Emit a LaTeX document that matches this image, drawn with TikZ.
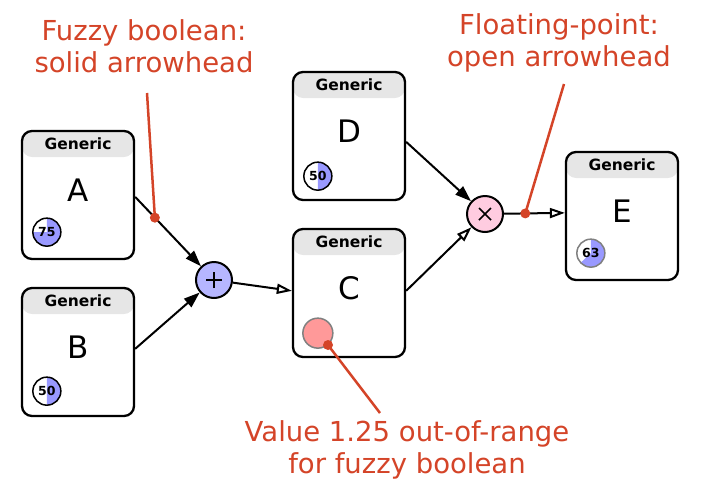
\documentclass[tikz,border=0pt]{standalone}
\usepackage{fontspec}
\setmainfont{DejaVu Sans}
\usetikzlibrary{arrows.meta,calc}
\definecolor{annot}{RGB}{212,68,40}
\definecolor{hdr}{RGB}{230,230,230}
\definecolor{pieblue}{RGB}{153,153,255}
\definecolor{plusfill}{RGB}{182,182,255}
\definecolor{timesfill}{RGB}{255,204,224}
\definecolor{badfill}{RGB}{255,153,153}
\newcommand\mkbox[4]{%
  \node[genbox] (#1) at (#2,#3) {};
  \node[hdrtext] at ([yshift=-14pt]#1.north) {Generic};
  \node[bigletter] at ([yshift=-60pt]#1.north) {#4};
}
\newcommand\mkpie[4]{%
  \fill[white] (#1) circle[radius=14pt];
  \fill[pieblue] (#1) -- ++(90:14pt) arc[start angle=90, end angle={90-3.6*#2}, radius=14pt] -- cycle;
  \draw[#4, line width=1.5pt] (#1) circle[radius=14pt];
  \node[pietext] at (#1) {#3};
}
\begin{document}
\begin{tikzpicture}[x=1pt,y=-1pt,
  genbox/.style={draw, line width=2.3pt, rounded corners=10pt, minimum width=112pt, minimum height=128pt, inner sep=0pt,
    path picture={\fill[hdr] (path picture bounding box.north west) rectangle ([yshift=-26pt]path picture bounding box.north east);}},
  hdrtext/.style={font=\bfseries\fontsize{15.5}{17}\selectfont},
  bigletter/.style={font=\fontsize{31}{34}\selectfont},
  pietext/.style={font=\bfseries\fontsize{12.5}{14}\selectfont},
  op/.style={circle, draw, line width=2pt, minimum size=36pt, inner sep=0pt},
  solidarr/.style={draw, line width=2pt, -{Triangle[length=16pt,width=11pt]}},
  openarr/.style={draw, line width=2pt, -{Triangle[open,length=15pt,width=10pt]}},
  annottext/.style={text=annot, align=center, font=\fontsize{27.5}{32}\selectfont},
  annotline/.style={draw=annot, line width=2.5pt},
  annotdot/.style={fill=annot}
]
\useasboundingbox (0,0) rectangle (710,499);
\mkbox{A}{78}{195}{A}
\mkbox{B}{78}{352}{B}
\mkbox{C}{349}{293}{C}
\mkbox{D}{349}{136}{D}
\mkbox{E}{622}{216}{E}
\mkpie{$(A.south west)+(26,-28)$}{75}{75}{black}
\mkpie{$(B.south west)+(26,-26)$}{50}{50}{black}
\mkpie{$(D.south west)+(26,-25)$}{50}{50}{black}
\mkpie{$(E.south west)+(26,-28)$}{63}{63}{gray}
\node[circle, draw=gray, line width=1.5pt, fill=badfill, minimum size=30pt, inner sep=0pt] (bad) at ($(C.south west)+(26,-25)$) {};
% operators
\node[op, fill=plusfill] (P) at (214,280) {};
\draw[line width=1.7pt] ([xshift=-8pt]P.center) -- ([xshift=8pt]P.center);
\draw[line width=1.7pt] ([yshift=-8pt]P.center) -- ([yshift=8pt]P.center);
\node[op, fill=timesfill] (T) at (485,214) {};
\draw[line width=1.7pt] ([shift={(-6pt,-6pt)}]T.center) -- ([shift={(6pt,6pt)}]T.center);
\draw[line width=1.7pt] ([shift={(-6pt,6pt)}]T.center) -- ([shift={(6pt,-6pt)}]T.center);
% ports
\coordinate (Aout) at ($(A.north east)+(0,67)$);
\coordinate (Bout) at ($(B.north east)+(0,62)$);
\coordinate (Cin) at ($(C.north west)+(0,63)$);
\coordinate (Cout) at ($(C.north east)+(0,63)$);
\coordinate (Dout) at ($(D.north east)+(0,71)$);
\coordinate (Ein) at ($(E.north west)+(0,62)$);
% connectors
\path[solidarr] (Aout) -- (P) coordinate[pos=0.3] (d1);
\path[solidarr] (Bout) -- (P);
\path[openarr] (P) -- (Cin);
\path[solidarr] (Dout) -- (T);
\path[openarr] (Cout) -- (T);
\path[openarr] (T) -- (Ein) coordinate[pos=0.35] (d2);
% annotations
\node[annottext] (t1) at (144,46) {Fuzzy boolean:\\solid arrowhead};
\node[annottext] (t2) at (559,43) {Floating-point:\\open arrowhead};
\node[annottext] (t3) at (407,450) {Value 1.25 out-of-range\\for fuzzy boolean};
\coordinate (l1) at (147,93);
\coordinate (l2) at (564,84);
\coordinate (l3) at (380,413);
\coordinate (d3) at (328,345);
\path[annotline] (l1) -- (d1);
\path[annotline] (l2) -- (d2);
\path[annotline] (l3) -- (d3);
\fill[annotdot] (d1) circle[radius=5pt];
\fill[annotdot] (d2) circle[radius=5pt];
\fill[annotdot] (d3) circle[radius=5pt];
\end{tikzpicture}
\end{document}
